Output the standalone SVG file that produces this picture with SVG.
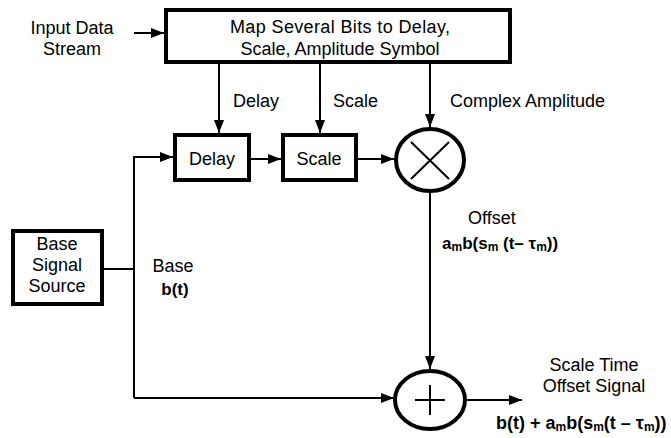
<svg xmlns="http://www.w3.org/2000/svg" width="671" height="438" viewBox="0 0 671 438">
<style>
text{font-family:"Liberation Sans",Arial,sans-serif;font-size:18px;fill:#000}
.b{font-weight:bold;font-size:17px}
.b2{font-weight:bold;font-size:18px}
.s{font-size:12px}
.box{fill:#fff;stroke:#000;stroke-width:4}
.op{fill:#fff;stroke:#000;stroke-width:4}
.ln{fill:none;stroke:#000;stroke-width:2}
</style>
<defs>
<marker id="ah" markerUnits="userSpaceOnUse" markerWidth="13" markerHeight="10" refX="13" refY="5" orient="auto">
<path d="M0,0 L13,5 L0,10 z" fill="#000"/>
</marker>
</defs>
<g id="connectors">
<path class="ln" d="M134,33 H164" marker-end="url(#ah)"/>
<path class="ln" d="M219,63 V133" marker-end="url(#ah)"/>
<path class="ln" d="M320,63 V133" marker-end="url(#ah)"/>
<path class="ln" d="M430,63 V127" marker-end="url(#ah)"/>
<path class="ln" d="M102,269 H134"/>
<path class="ln" d="M134,398 V157 H173" marker-end="url(#ah)"/>
<path class="ln" d="M134,398 H394" marker-end="url(#ah)"/>
<path class="ln" d="M249,159 H281" marker-end="url(#ah)"/>
<path class="ln" d="M356,159 H394" marker-end="url(#ah)"/>
<path class="ln" d="M430,191 V369" marker-end="url(#ah)"/>
<path class="ln" d="M466,400 H522" marker-end="url(#ah)"/>
</g>
<g id="input">
<text x="72" y="34" text-anchor="middle">Input Data</text>
<text x="72" y="55" text-anchor="middle">Stream</text>
</g>
<g id="map">
<rect class="box" x="166" y="10" width="344" height="52"/>
<text x="340" y="33" text-anchor="middle" textLength="220">Map Several Bits to Delay,</text>
<text x="340" y="55" text-anchor="middle">Scale, Amplitude Symbol</text>
</g>
<g id="labels">
<text x="233" y="107">Delay</text>
<text x="333" y="107">Scale</text>
<text x="450" y="107">Complex Amplitude</text>
</g>
<g id="delay">
<rect class="box" x="175" y="135" width="74" height="45"/>
<text x="212" y="165" text-anchor="middle">Delay</text>
</g>
<g id="scale">
<rect class="box" x="283" y="135" width="73" height="45"/>
<text x="319" y="165" text-anchor="middle">Scale</text>
</g>
<g id="multiplier">
<ellipse class="op" cx="430" cy="160" rx="34" ry="31"/>
<path class="ln" d="M411,142 L449,179 M449,142 L411,179"/>
</g>
<g id="source">
<rect class="box" x="13" y="231" width="89" height="73"/>
<text x="57" y="250" text-anchor="middle">Base</text>
<text x="57" y="271" text-anchor="middle">Signal</text>
<text x="57" y="292" text-anchor="middle">Source</text>
</g>
<g id="base-label">
<text x="173" y="272" text-anchor="middle">Base</text>
<text class="b" x="175" y="295" text-anchor="middle">b(t)</text>
</g>
<g id="offset-label">
<text x="468" y="224">Offset</text>
<text class="b" x="442" y="249">a<tspan class="s" dy="2">m</tspan><tspan dy="-2">b(s</tspan><tspan class="s" dy="2">m</tspan><tspan dy="-2"> (t– τ</tspan><tspan class="s" dy="2">m</tspan><tspan dy="-2">))</tspan></text>
</g>
<g id="adder">
<ellipse class="op" cx="430" cy="400" rx="35" ry="29"/>
<path class="ln" d="M415,400 H445 M430,385 V415"/>
</g>
<g id="output">
<text x="594" y="371" text-anchor="middle">Scale Time</text>
<text x="594" y="392" text-anchor="middle">Offset Signal</text>
<text class="b2" x="496" y="429">b(t) + a<tspan class="s" dy="2">m</tspan><tspan dy="-2">b(s</tspan><tspan class="s" dy="2">m</tspan><tspan dy="-2">(t – τ</tspan><tspan class="s" dy="2">m</tspan><tspan dy="-2">))</tspan></text>
</g>
</svg>
